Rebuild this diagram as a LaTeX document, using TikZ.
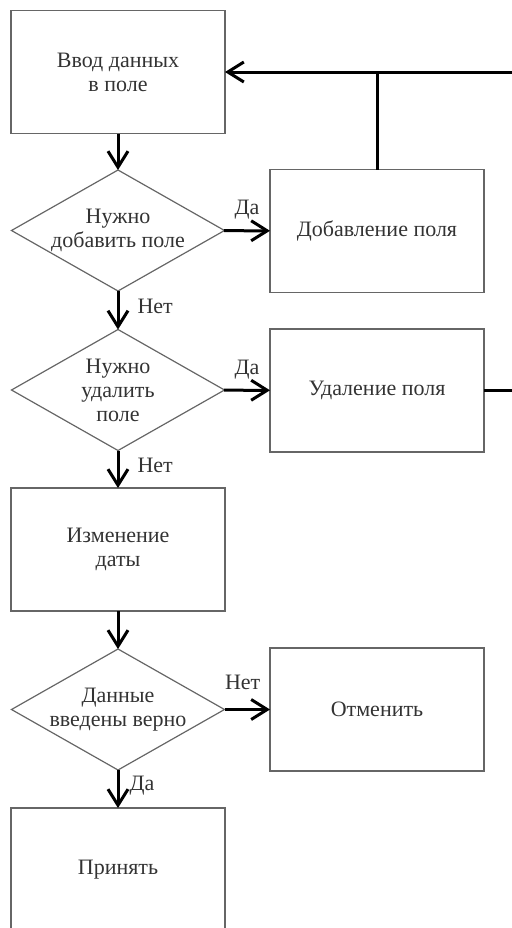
\documentclass[tikz,border=0pt]{standalone}
\usepackage{fontspec}
\setmainfont{Liberation Serif}
\usetikzlibrary{shapes.geometric,arrows.meta}
\newcommand{\stepnode}[3]
{\node [blockbox] (#1) at (#2) {#3};
}
\newcommand{\asknode}[3]
{\node [askbox] (#1) at (#2) {#3};
}

\begin{document}
\begin{tikzpicture}[x=0.5pt,y=-0.5pt,>={Straight Barb[length=8pt,width=10pt]},
	blockbox/.style={draw=black!60,line width=0.6pt,minimum width=107pt,minimum height=61.5pt,
		inner sep=0pt,outer sep=0pt,align=center,text=black!80,font=\fontsize{11}{12}\selectfont},
	askbox/.style={blockbox,diamond,aspect=1.76,inner xsep=-14pt,inner ysep=-10pt,
		minimum width=106.5pt,minimum height=60.5pt},
	flow/.style={->,line width=1.5pt},
	tag/.style={inner sep=1pt,text=black!80,font=\fontsize{11}{12}\selectfont}]
	\useasboundingbox (0,0) rectangle (511,928);
	% left column
	\stepnode{input}{118,72}{Ввод данных\\в поле}
	\asknode{askadd}{118,230.5}{Нужно\\добавить поле}
	\asknode{askdel}{118,390}{Нужно\\удалить\\поле}
	\stepnode{date}{118,549.5}{Изменение\\даты}
	\asknode{askok}{118,709.5}{Данные\\введены верно}
	\stepnode{accept}{118,869.5}{Принять}
	% right column
	\stepnode{addfield}{377,231}{Добавление поля}
	\stepnode{delfield}{377,390.5}{Удаление поля}
	\stepnode{cancel}{377,709.5}{Отменить}
	% connectors
	\draw[flow] (input) -- (askadd);
	\draw[flow] (askadd) -- node[tag,above=4pt] {Да} (addfield);
	\draw[flow] (askadd) -- node[tag,right=8pt,pos=0.4] {Нет} (askdel);
	\draw[flow] (askdel) -- node[tag,above=4pt] {Да} (delfield);
	\draw[flow] (askdel) -- node[tag,right=8pt,pos=0.4] {Нет} (date);
	\draw[flow] (date) -- (askok);
	\draw[flow] (askok) -- node[tag,above=8pt,pos=0.4] {Нет} (cancel);
	\draw[flow] (askok) -- node[tag,right=4pt,pos=0.4] {Да} (accept);
	% way back to the input
	\draw[flow] (delfield.east) -- ++(40,0) coordinate (back) |- (input.east);
	\draw[line width=1.5pt] (addfield.north) -- (addfield.north |- input.east);
\end{tikzpicture}
\end{document}
